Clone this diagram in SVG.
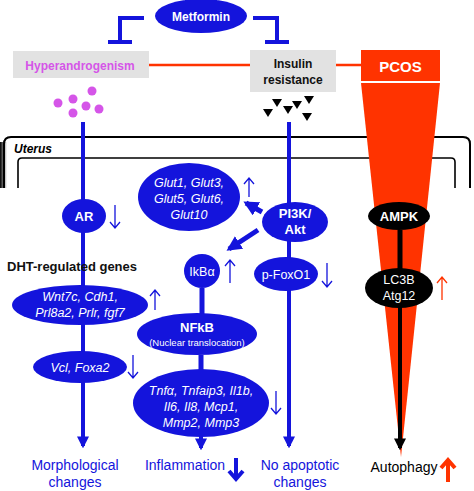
<svg xmlns="http://www.w3.org/2000/svg" width="474" height="491" viewBox="0 0 474 491">
<style>
.b{fill:#1414dc}
.bl{stroke:#1414dc;fill:none}
.k{fill:#000}
.t{font-family:"Liberation Sans",Arial,sans-serif;text-anchor:middle}
.w{fill:#fff}
.bold{font-weight:bold}
.it{font-style:italic}
.red{fill:#ff3300}
</style>
<defs>
<marker id="ab" viewBox="0 0 10 10" refX="8" refY="5" markerWidth="3" markerHeight="3" orient="auto"><path d="M0,0L10,5L0,10z" fill="#1414dc"/></marker>
<marker id="ak" viewBox="0 0 10 10" refX="8" refY="5" markerWidth="3" markerHeight="3" orient="auto"><path d="M0,0L10,5L0,10z" fill="#000"/></marker>
<linearGradient id="sh" x1="0" x2="1" y1="0" y2="0"><stop offset="0" stop-color="#000"/><stop offset="1" stop-color="#000" stop-opacity="0"/></linearGradient>
</defs>

<!-- Uterus outline -->
<g id="uterus" fill="none" stroke="#000">
<path d="M4,188V144Q4,137 11,137H463Q470,137 470,144V188" stroke-width="2"/>
<rect x="0" y="142" width="7" height="46" fill="url(#sh)" stroke="none"/>
<path d="M18,188V162Q18,158 22,158H451Q455,158 455,162V188" stroke-width="1.6"/>
<text x="14" y="153" font-family="Liberation Sans,Arial,sans-serif" font-size="12" font-weight="bold" font-style="italic" fill="#000" stroke="none">Uterus</text>
</g>

<!-- PCOS wedge -->
<g id="pcos">
<rect x="361" y="50" width="79" height="31" class="red"/>
<text x="400.5" y="72" class="t bold w" font-size="15">PCOS</text>
<path d="M361,83H440L401,457Z" class="red"/>
</g>

<!-- connectors -->
<g id="connectors">
<path d="M144,18H120V42M108,42H132" class="bl" stroke-width="4"/>
<path d="M253,18H277V42M265,42H289" class="bl" stroke-width="4"/>
<path d="M149,65H250M336,65H362" stroke="#ff3300" stroke-width="2.5"/>
<path d="M83,122V446" class="bl" stroke-width="4" marker-end="url(#ab)"/>
<path d="M289,122V446" class="bl" stroke-width="4" marker-end="url(#ab)"/>
<path d="M202,288V322M201,355V372" class="bl" stroke-width="5"/>
<path d="M201,436V448" class="bl" stroke-width="4" marker-end="url(#ab)"/>
<path d="M262,212L246,203" class="bl" stroke-width="5" marker-end="url(#ab)"/>
<path d="M258,230L229,249" class="bl" stroke-width="5" marker-end="url(#ab)"/>
<path d="M400,230V270" stroke="#000" stroke-width="5"/>
<path d="M400,306V448" stroke="#000" stroke-width="4" marker-end="url(#ak)"/>
</g>

<!-- small state arrows -->
<g id="state-arrows" fill="none" stroke-width="1.3">
<g stroke="#1414dc">
<path d="M115,205V228M110,222L115,228L120,222"/>
<path d="M155,310V290M150,296L155,290L160,296"/>
<path d="M133,355V378M128,372L133,378L138,372"/>
<path d="M249,197V178M244,184L249,178L254,184"/>
<path d="M230,283V260M225,266L230,260L235,266"/>
<path d="M327,263V287M322,281L327,287L332,281"/>
<path d="M276,391V414M271,408L276,414L281,408"/>
</g>
<path d="M442,300V277M437,283L442,277L447,283" stroke="#ff3300"/>
<path d="M236,458V478M229,471L236,479L243,471" stroke="#1414dc" stroke-width="4"/>
<path d="M448,482V461M441,468L448,460L455,468" stroke="#ff3300" stroke-width="4"/>
</g>

<g id="metformin">
<ellipse cx="201" cy="16" rx="46" ry="17" class="b"/>
<text x="201" y="20.5" class="t bold w" font-size="12">Metformin</text>
</g>

<g id="hyperandrogenism">
<rect x="13" y="51" width="136" height="27" fill="#e2e2e2"/>
<text x="80" y="69.5" class="t bold" font-size="12" fill="#d555e8">Hyperandrogenism</text>
</g>

<g id="insulin-resistance">
<rect x="250" y="50" width="86" height="42" fill="#e2e2e2"/>
<text x="293" y="68" class="t bold" font-size="12" fill="#111">Insulin</text>
<text x="293" y="84" class="t bold" font-size="12" fill="#111">resistance</text>
</g>

<g id="androgens" fill="#d555e8">
<circle cx="92" cy="91" r="4.5"/>
<circle cx="73" cy="99" r="4.5"/>
<circle cx="58" cy="103" r="4.5"/>
<circle cx="86" cy="106" r="4.5"/>
<circle cx="99" cy="109" r="4.5"/>
<circle cx="73" cy="113" r="4.5"/>
</g>

<g id="insulin" fill="#000">
<path d="M263,109h10l-5,8z"/>
<path d="M272,99h10l-5,8z"/>
<path d="M283,106h10l-5,8z"/>
<path d="M292,101h10l-5,8z"/>
<path d="M304,96h10l-5,8z"/>
<path d="M302,113h10l-5,8z"/>
</g>

<g id="ar">
<ellipse cx="84" cy="216" rx="22" ry="17" class="b"/>
<text x="84" y="221" class="t bold w" font-size="13">AR</text>
</g>

<g id="dht">
<text x="7" y="271" font-family="Liberation Sans,Arial,sans-serif" font-size="13" font-weight="bold" fill="#111">DHT-regulated genes</text>
</g>

<g id="wnt">
<ellipse cx="80" cy="305" rx="68" ry="20" class="b"/>
<text x="80" y="301" class="t it w" font-size="12.5">Wnt7c, Cdh1,</text>
<text x="80" y="317" class="t it w" font-size="12.5">Prl8a2, Prlr, fgf7</text>
</g>

<g id="vcl">
<ellipse cx="80" cy="367" rx="47" ry="16" class="b"/>
<text x="80" y="372" class="t it w" font-size="12.5">Vcl, Foxa2</text>
</g>

<g id="glut">
<ellipse cx="189" cy="197" rx="51" ry="34" class="b"/>
<text x="189" y="187" class="t it w" font-size="12.5">Glut1, Glut3,</text>
<text x="189" y="203" class="t it w" font-size="12.5">Glut5, Glut6,</text>
<text x="189" y="219" class="t it w" font-size="12.5">Glut10</text>
</g>

<g id="pi3k">
<ellipse cx="295" cy="222" rx="33" ry="20" class="b"/>
<text x="295" y="218" class="t bold w" font-size="13">PI3K/</text>
<text x="295" y="234" class="t bold w" font-size="13">Akt</text>
</g>

<g id="ikba">
<ellipse cx="202" cy="271" rx="18" ry="17" class="b"/>
<text x="202" y="276" class="t w" font-size="12.5">IkBα</text>
</g>

<g id="pfoxo1">
<ellipse cx="286" cy="274" rx="32" ry="17" class="b"/>
<text x="286" y="279" class="t w" font-size="12.5">p-FoxO1</text>
</g>

<g id="nfkb">
<ellipse cx="197" cy="334" rx="60" ry="21" class="b"/>
<text x="197" y="332" class="t bold w" font-size="13">NFkB</text>
<text x="197" y="346" class="t w" font-size="9.5">(Nuclear translocation)</text>
</g>

<g id="tnfa">
<ellipse cx="201" cy="403" rx="68" ry="34" class="b"/>
<text x="201" y="395" class="t it w" font-size="12.5">Tnfα, Tnfaip3, Il1b,</text>
<text x="201" y="411" class="t it w" font-size="12.5">Il6, Il8, Mcp1,</text>
<text x="201" y="427" class="t it w" font-size="12.5">Mmp2, Mmp3</text>
</g>

<g id="ampk">
<ellipse cx="399" cy="216" rx="31" ry="14" class="k"/>
<text x="399" y="221" class="t bold w" font-size="13">AMPK</text>
</g>

<g id="lc3b">
<ellipse cx="399" cy="288" rx="34" ry="20" class="k"/>
<text x="399" y="284" class="t w" font-size="12.5">LC3B</text>
<text x="399" y="300" class="t w" font-size="12.5">Atg12</text>
</g>

<g id="outcomes" font-size="14">
<text x="75" y="470" class="t" fill="#1414dc">Morphological</text>
<text x="75" y="487" class="t" fill="#1414dc">changes</text>
<text x="185" y="470" class="t" fill="#1414dc">Inflammation</text>
<text x="300" y="470" class="t" fill="#1414dc">No apoptotic</text>
<text x="300" y="487" class="t" fill="#1414dc">changes</text>
<text x="404" y="472" class="t" fill="#000">Autophagy</text>
</g>
</svg>
